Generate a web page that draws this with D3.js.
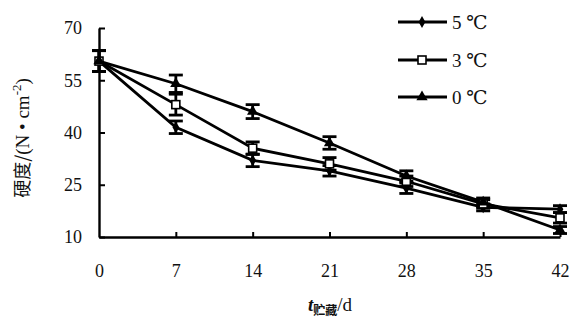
<!DOCTYPE html>
<html>
<head>
<meta charset="utf-8">
<script src="https://cdn.jsdelivr.net/npm/d3@7"></script>
<style>
  body { margin: 0; background: #fff; }
  svg { display: block; }
  text { font-family: "Liberation Serif", "DejaVu Serif", serif; fill: #111; }
</style>
</head>
<body>
<svg id="chart" width="584" height="326"></svg>
<script>
// storage days
const days = [0, 7, 14, 21, 28, 35, 42];
// hardness, N/cm^2
const t5 = [60.5, 41.5, 32, 29, 24, 18.5, 18];
const t3 = [60.5, 48, 35.5, 31, 26, 19.5, 15.5];
const t0 = [60.5, 54, 46, 37, 27.5, 20, 12];
// error bars
const e5 = [3, 1.8, 1.8, 1.5, 1.5, 1, 1];
const e3 = [3, 3, 1.8, 1.8, 1.5, 1.2, 1.5];
const e0 = [3, 2.5, 2, 1.8, 1.5, 1.2, 1];
const yTicks = [10, 25, 40, 55, 70];
const seriesNames = ['5 ℃', '3 ℃', '0 ℃'];

const svg = d3.select('#chart');
const x = d3.scaleLinear([0, 42], [99, 560]);
const y = d3.scaleLinear([10, 70], [237, 28]);
const ink = '#000';

const series = [
    {name: seriesNames[0], vals: t5, err: e5, shape: 'diamond'},
    {name: seriesNames[1], vals: t3, err: e3, shape: 'square'},
    {name: seriesNames[2], vals: t0, err: e0, shape: 'triangle'}
];

// axes
const yAxis = d3.axisLeft(y).tickValues(yTicks).tickSizeInner(-6).tickSizeOuter(0).tickPadding(17);
const gy = svg.append('g').attr('transform', 'translate(' + x(0) + ',0)').call(yAxis);
const xAxis = d3.axisBottom(x).tickValues(days).tickSizeInner(-5).tickSizeOuter(0).tickPadding(27);
const gx = svg.append('g').attr('transform', 'translate(0,' + y(10) + ')').call(xAxis);
[gx, gy].forEach(g => {
    g.select('.domain').attr('stroke', ink).attr('stroke-width', 2.4);
    g.selectAll('.tick line').attr('stroke', ink).attr('stroke-width', 2);
    g.selectAll('.tick text').style('font-size', '18px').style('font-family', '"Liberation Serif", serif').attr('fill', ink);
});
gx.selectAll('.tick').filter(d => d === 0).select('line').remove();

// shape helper
function marker(sel, shape, cx, cy) {
    if (shape === 'diamond') {
        sel.append('path').attr('d', d3.symbol(d3.symbolDiamond, 40)()).attr('transform', 'translate(' + cx + ',' + cy + ')').attr('fill', ink);
    } else if (shape === 'square') {
        sel.append('rect').attr('x', cx - 4).attr('y', cy - 4).attr('width', 8).attr('height', 8)
            .attr('fill', '#fff').attr('stroke', ink).attr('stroke-width', 1.6);
    } else {
        sel.append('path').attr('d', d3.symbol(d3.symbolTriangle, 55)()).attr('transform', 'translate(' + cx + ',' + cy + ')').attr('fill', ink);
    }
}

const line = d3.line().x((d, i) => x(days[i])).y(d => y(d));
const plot = svg.append('g');

series.forEach(s => {
    // error bars
    const eb = plot.append('g').attr('stroke', ink).attr('stroke-width', 2.8);
    s.vals.forEach((v, i) => {
        const cx = x(days[i]);
        eb.append('line').attr('x1', cx).attr('x2', cx).attr('y1', y(v - s.err[i])).attr('y2', y(v + s.err[i]));
        eb.append('line').attr('x1', cx - 7).attr('x2', cx + 7).attr('y1', y(v + s.err[i])).attr('y2', y(v + s.err[i]));
        eb.append('line').attr('x1', cx - 7).attr('x2', cx + 7).attr('y1', y(v - s.err[i])).attr('y2', y(v - s.err[i]));
    });
    plot.append('path').datum(s.vals).attr('d', line)
        .attr('fill', 'none').attr('stroke', ink).attr('stroke-width', 2.8);
});
series.forEach(s => {
    const mg = plot.append('g');
    s.vals.forEach((v, i) => marker(mg, s.shape, x(days[i]), y(v)));
});

// legend
const legY = [22, 60, 97];
series.forEach((s, i) => {
    const lg = svg.append('g');
    lg.append('line').attr('x1', 398).attr('x2', 447).attr('y1', legY[i]).attr('y2', legY[i])
        .attr('stroke', ink).attr('stroke-width', 2.8);
    marker(lg, s.shape, 422, legY[i]);
    lg.append('text').attr('x', 452).attr('y', legY[i] + 7).style('font-size', '19px').text(s.name);
});

// axis titles
const xt = svg.append('text').attr('x', 330).attr('y', 311).attr('text-anchor', 'middle').style('font-size', '19px');
xt.append('tspan').style('font-style', 'italic').style('font-weight', 'bold').text('t');
xt.append('tspan').attr('dy', 4).style('font-size', '12px').style('font-family', '"Noto Sans CJK SC", sans-serif').style('font-weight', 'bold').text('贮藏');
xt.append('tspan').attr('dy', -4).text('/d');

const yt = svg.append('text').attr('transform', 'translate(29,138) rotate(-90)').attr('text-anchor', 'middle').style('font-size', '19px');
yt.append('tspan').style('font-family', '"Noto Sans CJK SC", sans-serif').style('font-size', '18px').text('硬度/');
yt.append('tspan').text('(N • cm');
yt.append('tspan').attr('dy', -8).style('font-size', '13px').text('-2');
yt.append('tspan').attr('dy', 8).text(')');
</script>
</body>
</html>
